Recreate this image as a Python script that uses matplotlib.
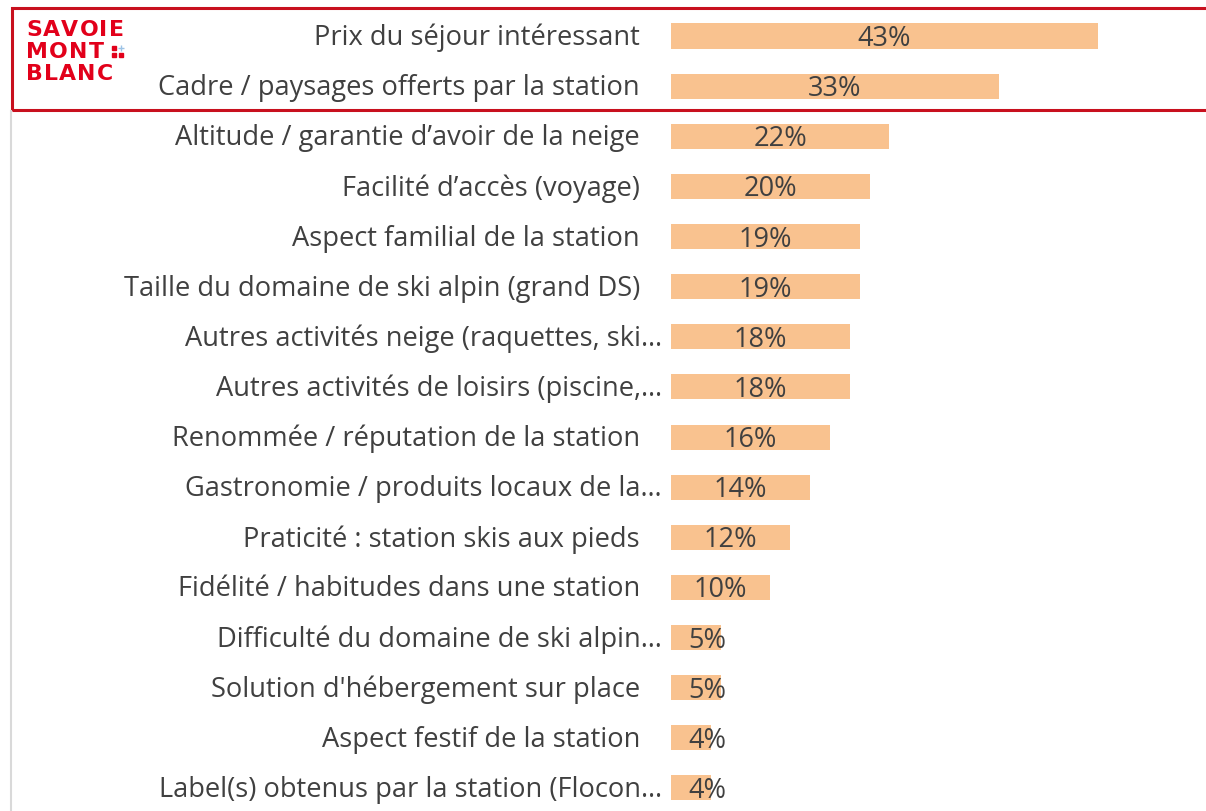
import matplotlib
matplotlib.use("Agg")
import matplotlib.pyplot as plt
from matplotlib.patches import Rectangle
from matplotlib.lines import Line2D

categories = [
    "Prix du séjour intéressant",
    "Cadre / paysages offerts par la station",
    "Altitude / garantie d’avoir de la neige",
    "Facilité d’accès (voyage)",
    "Aspect familial de la station",
    "Taille du domaine de ski alpin (grand DS)",
    "Autres activités neige (raquettes, ski…",
    "Autres activités de loisirs (piscine,…",
    "Renommée / réputation de la station",
    "Gastronomie / produits locaux de la…",
    "Praticité : station skis aux pieds",
    "Fidélité / habitudes dans une station",
    "Difficulté du domaine de ski alpin…",
    "Solution d'hébergement sur place",
    "Aspect festif de la station",
    "Label(s) obtenus par la station (Flocon…",
]
values = [43, 33, 22, 20, 19, 19, 18, 18, 16, 14, 12, 10, 5, 5, 4, 4]
value_labels = ["43%", "33%", "22%", "20%", "19%", "19%", "18%", "18%",
                "16%", "14%", "12%", "10%", "5%", "5%", "4%", "4%"]

W, H = 1206, 811
fig = plt.figure(figsize=(W / 100, H / 100), dpi=100)
fig.patch.set_facecolor("white")

px_per_unit = 9.93
x0 = 671
ax = fig.add_axes([x0 / W, 0, 1 - x0 / W, 1])
xmax = (W - x0) / px_per_unit
ax.set_xlim(0, xmax)
row0, step = 36, 50.13
ax.set_ylim((H - row0) / step, -row0 / step)
ax.axis("off")

bar_color = "#F9C28F"
text_color = "#404040"
font = "Open Sans"
ypos = list(range(len(categories)))
ax.barh(ypos, values, height=0.5, color=bar_color, edgecolor="none")

for y, v, lab, cat in zip(ypos, values, value_labels, categories):
    ax.text(max(v / 2, 3.7), y + 0.06, lab, ha="center", va="center",
            fontsize=19.5, color=text_color, family=font)
    gap = 9 if cat.endswith("…") else 31
    ax.text(-gap / px_per_unit, y + 0.04, cat, ha="right", va="center",
            fontsize=19.6, color=text_color, family=font)

# red frame around top two rows
fig.add_artist(Rectangle((12 / W, 1 - 110 / H), (W + 10 - 12) / W, (110 - 8) / H,
                         transform=fig.transFigure, fill=False,
                         edgecolor="#C8101E", linewidth=2.2, clip_on=False))
# left gray border line
fig.add_artist(Line2D([11 / W, 11 / W], [0, 1 - 111 / H], transform=fig.transFigure,
                      color="#D9D9D9", linewidth=1.5))

# logo (letter-spaced bold text)
logo_red = "#E2001A"
renderer = fig.canvas.get_renderer()
for word, yc, spacing in [("SAVOIE", 30.5, 1.2), ("MONT", 52.5, 1.2), ("BLANC", 74.0, 1.2)]:
    xpix = 26
    for ch in word:
        t = fig.text(xpix / W, 1 - yc / H, ch, ha="left", va="center",
                     fontsize=15.8, fontweight="bold", color=logo_red,
                     family="DejaVu Sans")
        bb = t.get_window_extent(renderer)
        xpix += bb.width + spacing
# small dot grid after MONT
for (dx, dy, c, m, s) in [(114, 48, logo_red, "s", 3.4), (114, 55, logo_red, "s", 3.4),
                          (121, 55, logo_red, "s", 3.4), (121, 47.5, "#9DC3E6", "+", 4)]:
    fig.add_artist(Line2D([dx / W], [1 - dy / H], transform=fig.transFigure,
                          marker=m, markersize=s, color=c, markeredgewidth=1,
                          linestyle="none"))

fig.savefig("out.png", dpi=100)
